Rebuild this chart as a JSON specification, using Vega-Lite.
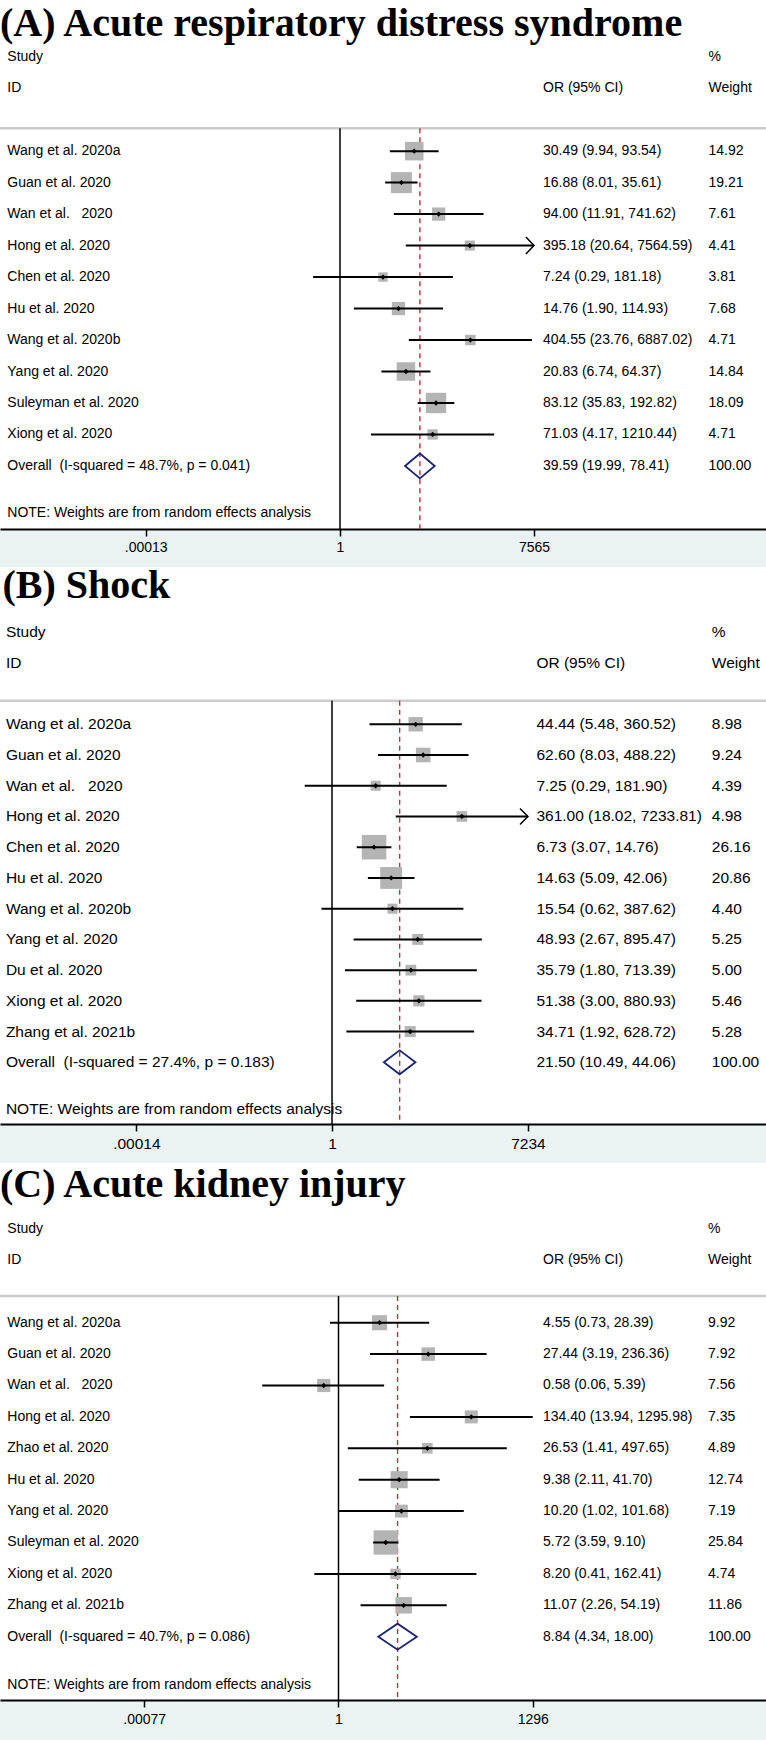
{
  "$schema": "https://vega.github.io/schema/vega-lite/v6.json",
  "background": "#eaf2f3",
  "padding": 0,
  "spacing": 0,
  "datasets": {
    "A": [
      {"row": -1, "type": "title", "s": "(A) Acute respiratory distress syndrome"},
      {"row": 0, "type": "header", "s": "Study", "p": "%"},
      {"row": 1, "type": "header", "s": "ID", "c": "OR (95% CI)", "p": "Weight"},
      {"row": 3, "type": "study", "s": "Wang et al. 2020a", "est": 30.49, "lo": 9.94, "hi": 93.54, "w": 14.92, "c": "30.49 (9.94, 93.54)", "p": "14.92"},
      {"row": 4, "type": "study", "s": "Guan et al. 2020", "est": 16.88, "lo": 8.01, "hi": 35.61, "w": 19.21, "c": "16.88 (8.01, 35.61)", "p": "19.21"},
      {"row": 5, "type": "study", "s": "Wan et al.\u00a0\u00a0 2020", "est": 94.00, "lo": 11.91, "hi": 741.62, "w": 7.61, "c": "94.00 (11.91, 741.62)", "p": "7.61"},
      {"row": 6, "type": "study", "s": "Hong et al. 2020", "est": 395.18, "lo": 20.64, "hi": 7564.59, "w": 4.41, "c": "395.18 (20.64, 7564.59)", "p": "4.41", "arrow": true},
      {"row": 7, "type": "study", "s": "Chen et al. 2020", "est": 7.24, "lo": 0.29, "hi": 181.18, "w": 3.81, "c": "7.24 (0.29, 181.18)", "p": "3.81"},
      {"row": 8, "type": "study", "s": "Hu et al. 2020", "est": 14.76, "lo": 1.90, "hi": 114.93, "w": 7.68, "c": "14.76 (1.90, 114.93)", "p": "7.68"},
      {"row": 9, "type": "study", "s": "Wang et al. 2020b", "est": 404.55, "lo": 23.76, "hi": 6887.02, "w": 4.71, "c": "404.55 (23.76, 6887.02)", "p": "4.71"},
      {"row": 10, "type": "study", "s": "Yang et al. 2020", "est": 20.83, "lo": 6.74, "hi": 64.37, "w": 14.84, "c": "20.83 (6.74, 64.37)", "p": "14.84"},
      {"row": 11, "type": "study", "s": "Suleyman et al. 2020", "est": 83.12, "lo": 35.83, "hi": 192.82, "w": 18.09, "c": "83.12 (35.83, 192.82)", "p": "18.09"},
      {"row": 12, "type": "study", "s": "Xiong et al. 2020", "est": 71.03, "lo": 4.17, "hi": 1210.44, "w": 4.71, "c": "71.03 (4.17, 1210.44)", "p": "4.71"},
      {"row": 13, "type": "overall", "s": "Overall\u00a0 (I-squared = 48.7%, p = 0.041)", "est": 39.59, "lo": 19.99, "hi": 78.41, "w": 100, "c": "39.59 (19.99, 78.41)", "p": "100.00"},
      {"row": 14, "type": "note", "s": "NOTE: Weights are from random effects analysis"}
    ],
    "B": [
      {"row": -1, "type": "title", "s": "(B) Shock"},
      {"row": 0, "type": "header", "s": "Study", "p": "%"},
      {"row": 1, "type": "header", "s": "ID", "c": "OR (95% CI)", "p": "Weight"},
      {"row": 3, "type": "study", "s": "Wang et al. 2020a", "est": 44.44, "lo": 5.48, "hi": 360.52, "w": 8.98, "c": "44.44 (5.48, 360.52)", "p": "8.98"},
      {"row": 4, "type": "study", "s": "Guan et al. 2020", "est": 62.60, "lo": 8.03, "hi": 488.22, "w": 9.24, "c": "62.60 (8.03, 488.22)", "p": "9.24"},
      {"row": 5, "type": "study", "s": "Wan et al.\u00a0\u00a0 2020", "est": 7.25, "lo": 0.29, "hi": 181.90, "w": 4.39, "c": "7.25 (0.29, 181.90)", "p": "4.39"},
      {"row": 6, "type": "study", "s": "Hong et al. 2020", "est": 361.00, "lo": 18.02, "hi": 7233.81, "w": 4.98, "c": "361.00 (18.02, 7233.81)", "p": "4.98", "arrow": true},
      {"row": 7, "type": "study", "s": "Chen et al. 2020", "est": 6.73, "lo": 3.07, "hi": 14.76, "w": 26.16, "c": "6.73 (3.07, 14.76)", "p": "26.16"},
      {"row": 8, "type": "study", "s": "Hu et al. 2020", "est": 14.63, "lo": 5.09, "hi": 42.06, "w": 20.86, "c": "14.63 (5.09, 42.06)", "p": "20.86"},
      {"row": 9, "type": "study", "s": "Wang et al. 2020b", "est": 15.54, "lo": 0.62, "hi": 387.62, "w": 4.40, "c": "15.54 (0.62, 387.62)", "p": "4.40"},
      {"row": 10, "type": "study", "s": "Yang et al. 2020", "est": 48.93, "lo": 2.67, "hi": 895.47, "w": 5.25, "c": "48.93 (2.67, 895.47)", "p": "5.25"},
      {"row": 11, "type": "study", "s": "Du et al. 2020", "est": 35.79, "lo": 1.80, "hi": 713.39, "w": 5.00, "c": "35.79 (1.80, 713.39)", "p": "5.00"},
      {"row": 12, "type": "study", "s": "Xiong et al. 2020", "est": 51.38, "lo": 3.00, "hi": 880.93, "w": 5.46, "c": "51.38 (3.00, 880.93)", "p": "5.46"},
      {"row": 13, "type": "study", "s": "Zhang et al. 2021b", "est": 34.71, "lo": 1.92, "hi": 628.72, "w": 5.28, "c": "34.71 (1.92, 628.72)", "p": "5.28"},
      {"row": 14, "type": "overall", "s": "Overall\u00a0 (I-squared = 27.4%, p = 0.183)", "est": 21.50, "lo": 10.49, "hi": 44.06, "w": 100, "c": "21.50 (10.49, 44.06)", "p": "100.00"},
      {"row": 15, "type": "note", "s": "NOTE: Weights are from random effects analysis"}
    ],
    "C": [
      {"row": -1, "type": "title", "s": "(C) Acute kidney injury"},
      {"row": 0, "type": "header", "s": "Study", "p": "%"},
      {"row": 1, "type": "header", "s": "ID", "c": "OR (95% CI)", "p": "Weight"},
      {"row": 3, "type": "study", "s": "Wang et al. 2020a", "est": 4.55, "lo": 0.73, "hi": 28.39, "w": 9.92, "c": "4.55 (0.73, 28.39)", "p": "9.92"},
      {"row": 4, "type": "study", "s": "Guan et al. 2020", "est": 27.44, "lo": 3.19, "hi": 236.36, "w": 7.92, "c": "27.44 (3.19, 236.36)", "p": "7.92"},
      {"row": 5, "type": "study", "s": "Wan et al.\u00a0\u00a0 2020", "est": 0.58, "lo": 0.06, "hi": 5.39, "w": 7.56, "c": "0.58 (0.06, 5.39)", "p": "7.56"},
      {"row": 6, "type": "study", "s": "Hong et al. 2020", "est": 134.40, "lo": 13.94, "hi": 1295.98, "w": 7.35, "c": "134.40 (13.94, 1295.98)", "p": "7.35"},
      {"row": 7, "type": "study", "s": "Zhao et al. 2020", "est": 26.53, "lo": 1.41, "hi": 497.65, "w": 4.89, "c": "26.53 (1.41, 497.65)", "p": "4.89"},
      {"row": 8, "type": "study", "s": "Hu et al. 2020", "est": 9.38, "lo": 2.11, "hi": 41.70, "w": 12.74, "c": "9.38 (2.11, 41.70)", "p": "12.74"},
      {"row": 9, "type": "study", "s": "Yang et al. 2020", "est": 10.20, "lo": 1.02, "hi": 101.68, "w": 7.19, "c": "10.20 (1.02, 101.68)", "p": "7.19"},
      {"row": 10, "type": "study", "s": "Suleyman et al. 2020", "est": 5.72, "lo": 3.59, "hi": 9.10, "w": 25.84, "c": "5.72 (3.59, 9.10)", "p": "25.84"},
      {"row": 11, "type": "study", "s": "Xiong et al. 2020", "est": 8.20, "lo": 0.41, "hi": 162.41, "w": 4.74, "c": "8.20 (0.41, 162.41)", "p": "4.74"},
      {"row": 12, "type": "study", "s": "Zhang et al. 2021b", "est": 11.07, "lo": 2.26, "hi": 54.19, "w": 11.86, "c": "11.07 (2.26, 54.19)", "p": "11.86"},
      {"row": 13, "type": "overall", "s": "Overall\u00a0 (I-squared = 40.7%, p = 0.086)", "est": 8.84, "lo": 4.34, "hi": 18.00, "w": 100, "c": "8.84 (4.34, 18.00)", "p": "100.00"},
      {"row": 14, "type": "note", "s": "NOTE: Weights are from random effects analysis"}
    ]
  },
  "vconcat": [
    {
      "width": 766, "height": 529,
      "data": {"name": "A"},
      "layer": [
        {"transform": [{"filter": "datum.type === 'overall'"}],
         "mark": {"type": "rule", "color": "#cccccc", "strokeWidth": 2.5, "clip": true},
         "encoding": {"y": {"datum": 2.27, "type": "quantitative", "scale": {"domain": [-1.801, 15.003], "reverse": true, "nice": false, "zero": false}, "axis": null}}},
        {"transform": [{"filter": "datum.type === 'overall'"}],
         "mark": {"type": "rule", "color": "black", "strokeWidth": 1.5, "clip": true},
         "encoding": {
           "x": {"datum": 1, "type": "quantitative", "scale": {"type": "log", "domain": [1.5909e-7, 3.2959e8], "nice": false, "zero": false}},
           "y": {"datum": 2.27, "type": "quantitative", "scale": {"domain": [-1.801, 15.003], "reverse": true, "nice": false, "zero": false}, "axis": null},
           "y2": {"datum": 15.003}}},
        {"transform": [{"filter": "datum.type === 'overall'"}],
         "mark": {"type": "rule", "color": "#b8333a", "strokeWidth": 1.4, "strokeDash": [5, 4], "clip": true},
         "encoding": {
           "x": {"field": "est", "type": "quantitative", "scale": {"type": "log", "domain": [1.5909e-7, 3.2959e8], "nice": false, "zero": false}},
           "y": {"datum": 2.27, "type": "quantitative", "scale": {"domain": [-1.801, 15.003], "reverse": true, "nice": false, "zero": false}, "axis": null},
           "y2": {"datum": 15.003}}},
        {"transform": [{"filter": "datum.type === 'study'"}],
         "mark": {"type": "square", "color": "#b4b4b4", "filled": true, "opacity": 1, "clip": true},
         "encoding": {
           "x": {"field": "est", "type": "quantitative", "scale": {"type": "log", "domain": [1.5909e-7, 3.2959e8], "nice": false, "zero": false}},
           "y": {"field": "row", "type": "quantitative", "scale": {"domain": [-1.801, 15.003], "reverse": true, "nice": false, "zero": false}, "axis": null},
           "size": {"field": "w", "type": "quantitative", "scale": {"domain": [0, 30], "range": [0, 690]}, "legend": null}}},
        {"transform": [{"filter": "datum.type === 'study'"}],
         "mark": {"type": "rule", "color": "black", "strokeWidth": 2, "clip": true},
         "encoding": {
           "x": {"field": "lo", "type": "quantitative", "scale": {"type": "log", "domain": [1.5909e-7, 3.2959e8], "nice": false, "zero": false},
                 "axis": {"values": [0.00013, 1, 7565], "labelExpr": "datum.value < 1 ? replace(toString(datum.value), '0.', '.') : toString(datum.value)", "title": null, "grid": false, "domainColor": "black", "domainWidth": 2, "tickColor": "black", "tickWidth": 1.5, "tickSize": 7, "labelFont": "Liberation Sans", "labelFontSize": 14, "labelColor": "black", "labelPadding": 4.6, "labelFlush": false, "labelOverlap": false, "labelBound": false, "minExtent": 38, "maxExtent": 38}},
           "x2": {"field": "hi"},
           "y": {"field": "row", "type": "quantitative", "scale": {"domain": [-1.801, 15.003], "reverse": true, "nice": false, "zero": false}, "axis": null}}},
        {"transform": [{"filter": "datum.type === 'study'"}],
         "mark": {"type": "point", "shape": "diamond", "size": 28, "filled": true, "opacity": 1, "color": "black", "clip": true},
         "encoding": {
           "x": {"field": "est", "type": "quantitative", "scale": {"type": "log", "domain": [1.5909e-7, 3.2959e8], "nice": false, "zero": false}},
           "y": {"field": "row", "type": "quantitative", "scale": {"domain": [-1.801, 15.003], "reverse": true, "nice": false, "zero": false}, "axis": null}}},
        {"transform": [{"filter": "datum.arrow === true"}],
         "mark": {"type": "point", "shape": "M-0.95,-1L0,0L-0.95,1", "size": 289, "filled": false, "opacity": 1, "color": "black", "strokeWidth": 1.5, "clip": true},
         "encoding": {
           "x": {"field": "hi", "type": "quantitative", "scale": {"type": "log", "domain": [1.5909e-7, 3.2959e8], "nice": false, "zero": false}},
           "y": {"field": "row", "type": "quantitative", "scale": {"domain": [-1.801, 15.003], "reverse": true, "nice": false, "zero": false}, "axis": null}}},
        {"transform": [{"filter": "datum.type === 'overall'"}],
         "mark": {"type": "point", "shape": "M-1,0L0,-0.842L1,0L0,0.842Z", "size": 882, "filled": false, "opacity": 1, "color": "#1b2470", "strokeWidth": 1.8, "clip": true},
         "encoding": {
           "x": {"field": "est", "type": "quantitative", "scale": {"type": "log", "domain": [1.5909e-7, 3.2959e8], "nice": false, "zero": false}},
           "y": {"field": "row", "type": "quantitative", "scale": {"domain": [-1.801, 15.003], "reverse": true, "nice": false, "zero": false}, "axis": null}}},
        {"transform": [{"filter": "datum.type === 'title'"}],
         "mark": {"type": "text", "font": "Liberation Serif", "fontWeight": "bold", "fontSize": 40, "align": "left", "baseline": "alphabetic", "dy": 11.2, "color": "black", "clip": true},
         "encoding": {
           "x": {"datum": 1.5909e-7, "type": "quantitative", "scale": {"type": "log", "domain": [1.5909e-7, 3.2959e8], "nice": false, "zero": false}},
           "y": {"field": "row", "type": "quantitative", "scale": {"domain": [-1.801, 15.003], "reverse": true, "nice": false, "zero": false}, "axis": null},
           "text": {"field": "s", "type": "nominal"}}},
        {"transform": [{"filter": "datum.type === 'header' || datum.type === 'study' || datum.type === 'overall'"}],
         "mark": {"type": "text", "font": "Liberation Sans", "fontSize": 14, "align": "left", "baseline": "middle", "color": "black", "clip": true},
         "encoding": {
           "x": {"datum": 2.2266e-7, "type": "quantitative", "scale": {"type": "log", "domain": [1.5909e-7, 3.2959e8], "nice": false, "zero": false}},
           "y": {"field": "row", "type": "quantitative", "scale": {"domain": [-1.801, 15.003], "reverse": true, "nice": false, "zero": false}, "axis": null},
           "text": {"field": "s", "type": "nominal"}}},
        {"transform": [{"filter": "datum.type === 'note'"}],
         "mark": {"type": "text", "font": "Liberation Sans", "fontSize": 14, "align": "left", "baseline": "middle", "dy": 15.3, "color": "black", "clip": true},
         "encoding": {
           "x": {"datum": 2.2266e-7, "type": "quantitative", "scale": {"type": "log", "domain": [1.5909e-7, 3.2959e8], "nice": false, "zero": false}},
           "y": {"field": "row", "type": "quantitative", "scale": {"domain": [-1.801, 15.003], "reverse": true, "nice": false, "zero": false}, "axis": null},
           "text": {"field": "s", "type": "nominal"}}},
        {"transform": [{"filter": "isValid(datum.c)"}],
         "mark": {"type": "text", "font": "Liberation Sans", "fontSize": 14, "align": "left", "baseline": "middle", "color": "black", "clip": true},
         "encoding": {
           "x": {"datum": 11455, "type": "quantitative", "scale": {"type": "log", "domain": [1.5909e-7, 3.2959e8], "nice": false, "zero": false}},
           "y": {"field": "row", "type": "quantitative", "scale": {"domain": [-1.801, 15.003], "reverse": true, "nice": false, "zero": false}, "axis": null},
           "text": {"field": "c", "type": "nominal"}}},
        {"transform": [{"filter": "isValid(datum.p)"}],
         "mark": {"type": "text", "font": "Liberation Sans", "fontSize": 14, "align": "left", "baseline": "middle", "color": "black", "clip": true},
         "encoding": {
           "x": {"datum": 2.3345e7, "type": "quantitative", "scale": {"type": "log", "domain": [1.5909e-7, 3.2959e8], "nice": false, "zero": false}},
           "y": {"field": "row", "type": "quantitative", "scale": {"domain": [-1.801, 15.003], "reverse": true, "nice": false, "zero": false}, "axis": null},
           "text": {"field": "p", "type": "nominal"}}}
      ]
    },
    {
      "width": 766, "height": 557,
      "data": {"name": "B"},
      "layer": [
        {"transform": [{"filter": "datum.type === 'overall'"}],
         "mark": {"type": "rule", "color": "#cccccc", "strokeWidth": 2.5, "clip": true},
         "encoding": {"y": {"datum": 2.232, "type": "quantitative", "scale": {"domain": [-2.118, 16.007], "reverse": true, "nice": false, "zero": false}, "axis": null}}},
        {"transform": [{"filter": "datum.type === 'overall'"}],
         "mark": {"type": "rule", "color": "black", "strokeWidth": 1.5, "clip": true},
         "encoding": {
           "x": {"datum": 1, "type": "quantitative", "scale": {"type": "log", "domain": [2.8904e-7, 3.5319e8], "nice": false, "zero": false}},
           "y": {"datum": 2.232, "type": "quantitative", "scale": {"domain": [-2.118, 16.007], "reverse": true, "nice": false, "zero": false}, "axis": null},
           "y2": {"datum": 16.007}}},
        {"transform": [{"filter": "datum.type === 'overall'"}],
         "mark": {"type": "rule", "color": "#b8333a", "strokeWidth": 1.4, "strokeDash": [5, 4], "clip": true},
         "encoding": {
           "x": {"field": "est", "type": "quantitative", "scale": {"type": "log", "domain": [2.8904e-7, 3.5319e8], "nice": false, "zero": false}},
           "y": {"datum": 2.232, "type": "quantitative", "scale": {"domain": [-2.118, 16.007], "reverse": true, "nice": false, "zero": false}, "axis": null},
           "y2": {"datum": 16.007}}},
        {"transform": [{"filter": "datum.type === 'study'"}],
         "mark": {"type": "square", "color": "#b4b4b4", "filled": true, "opacity": 1, "clip": true},
         "encoding": {
           "x": {"field": "est", "type": "quantitative", "scale": {"type": "log", "domain": [2.8904e-7, 3.5319e8], "nice": false, "zero": false}},
           "y": {"field": "row", "type": "quantitative", "scale": {"domain": [-2.118, 16.007], "reverse": true, "nice": false, "zero": false}, "axis": null},
           "size": {"field": "w", "type": "quantitative", "scale": {"domain": [0, 30], "range": [0, 677]}, "legend": null}}},
        {"transform": [{"filter": "datum.type === 'study'"}],
         "mark": {"type": "rule", "color": "black", "strokeWidth": 2, "clip": true},
         "encoding": {
           "x": {"field": "lo", "type": "quantitative", "scale": {"type": "log", "domain": [2.8904e-7, 3.5319e8], "nice": false, "zero": false},
                 "axis": {"values": [0.00014, 1, 7234], "labelExpr": "datum.value < 1 ? replace(toString(datum.value), '0.', '.') : toString(datum.value)", "title": null, "grid": false, "domainColor": "black", "domainWidth": 2, "tickColor": "black", "tickWidth": 1.5, "tickSize": 7, "labelFont": "Liberation Sans", "labelFontSize": 15.5, "labelColor": "black", "labelPadding": 5.6, "labelFlush": false, "labelOverlap": false, "labelBound": false, "minExtent": 39, "maxExtent": 39}},
           "x2": {"field": "hi"},
           "y": {"field": "row", "type": "quantitative", "scale": {"domain": [-2.118, 16.007], "reverse": true, "nice": false, "zero": false}, "axis": null}}},
        {"transform": [{"filter": "datum.type === 'study'"}],
         "mark": {"type": "point", "shape": "diamond", "size": 28, "filled": true, "opacity": 1, "color": "black", "clip": true},
         "encoding": {
           "x": {"field": "est", "type": "quantitative", "scale": {"type": "log", "domain": [2.8904e-7, 3.5319e8], "nice": false, "zero": false}},
           "y": {"field": "row", "type": "quantitative", "scale": {"domain": [-2.118, 16.007], "reverse": true, "nice": false, "zero": false}, "axis": null}}},
        {"transform": [{"filter": "datum.arrow === true"}],
         "mark": {"type": "point", "shape": "M-1,-1L0,0L-1,1", "size": 256, "filled": false, "opacity": 1, "color": "black", "strokeWidth": 1.5, "clip": true},
         "encoding": {
           "x": {"field": "hi", "type": "quantitative", "scale": {"type": "log", "domain": [2.8904e-7, 3.5319e8], "nice": false, "zero": false}},
           "y": {"field": "row", "type": "quantitative", "scale": {"domain": [-2.118, 16.007], "reverse": true, "nice": false, "zero": false}, "axis": null}}},
        {"transform": [{"filter": "datum.type === 'overall'"}],
         "mark": {"type": "point", "shape": "M-1,0L0,-0.759L1,0L0,0.759Z", "size": 1001, "filled": false, "opacity": 1, "color": "#1b2470", "strokeWidth": 1.8, "clip": true},
         "encoding": {
           "x": {"field": "est", "type": "quantitative", "scale": {"type": "log", "domain": [2.8904e-7, 3.5319e8], "nice": false, "zero": false}},
           "y": {"field": "row", "type": "quantitative", "scale": {"domain": [-2.118, 16.007], "reverse": true, "nice": false, "zero": false}, "axis": null}}},
        {"transform": [{"filter": "datum.type === 'title'"}],
         "mark": {"type": "text", "font": "Liberation Serif", "fontWeight": "bold", "fontSize": 40, "align": "left", "baseline": "alphabetic", "dy": -3.4, "color": "black", "clip": true},
         "encoding": {
           "x": {"datum": 3.2375e-7, "type": "quantitative", "scale": {"type": "log", "domain": [2.8904e-7, 3.5319e8], "nice": false, "zero": false}},
           "y": {"field": "row", "type": "quantitative", "scale": {"domain": [-2.118, 16.007], "reverse": true, "nice": false, "zero": false}, "axis": null},
           "text": {"field": "s", "type": "nominal"}}},
        {"transform": [{"filter": "datum.type === 'header' || datum.type === 'study' || datum.type === 'overall'"}],
         "mark": {"type": "text", "font": "Liberation Sans", "fontSize": 15.5, "align": "left", "baseline": "middle", "color": "black", "clip": true},
         "encoding": {
           "x": {"datum": 3.7772e-7, "type": "quantitative", "scale": {"type": "log", "domain": [2.8904e-7, 3.5319e8], "nice": false, "zero": false}},
           "y": {"field": "row", "type": "quantitative", "scale": {"domain": [-2.118, 16.007], "reverse": true, "nice": false, "zero": false}, "axis": null},
           "text": {"field": "s", "type": "nominal"}}},
        {"transform": [{"filter": "datum.type === 'note'"}],
         "mark": {"type": "text", "font": "Liberation Sans", "fontSize": 15.5, "align": "left", "baseline": "middle", "dy": 15.9, "color": "black", "clip": true},
         "encoding": {
           "x": {"datum": 3.7772e-7, "type": "quantitative", "scale": {"type": "log", "domain": [2.8904e-7, 3.5319e8], "nice": false, "zero": false}},
           "y": {"field": "row", "type": "quantitative", "scale": {"domain": [-2.118, 16.007], "reverse": true, "nice": false, "zero": false}, "axis": null},
           "text": {"field": "s", "type": "nominal"}}},
        {"transform": [{"filter": "isValid(datum.c)"}],
         "mark": {"type": "text", "font": "Liberation Sans", "fontSize": 15.5, "align": "left", "baseline": "middle", "color": "black", "clip": true},
         "encoding": {
           "x": {"datum": 10613, "type": "quantitative", "scale": {"type": "log", "domain": [2.8904e-7, 3.5319e8], "nice": false, "zero": false}},
           "y": {"field": "row", "type": "quantitative", "scale": {"domain": [-2.118, 16.007], "reverse": true, "nice": false, "zero": false}, "axis": null},
           "text": {"field": "c", "type": "nominal"}}},
        {"transform": [{"filter": "isValid(datum.p)"}],
         "mark": {"type": "text", "font": "Liberation Sans", "fontSize": 15.5, "align": "left", "baseline": "middle", "color": "black", "clip": true},
         "encoding": {
           "x": {"datum": 3.0235e7, "type": "quantitative", "scale": {"type": "log", "domain": [2.8904e-7, 3.5319e8], "nice": false, "zero": false}},
           "y": {"field": "row", "type": "quantitative", "scale": {"domain": [-2.118, 16.007], "reverse": true, "nice": false, "zero": false}, "axis": null},
           "text": {"field": "p", "type": "nominal"}}}
      ]
    },
    {
      "width": 766, "height": 537,
      "data": {"name": "C"},
      "layer": [
        {"transform": [{"filter": "datum.type === 'overall'"}],
         "mark": {"type": "rule", "color": "#cccccc", "strokeWidth": 2.5, "clip": true},
         "encoding": {"y": {"datum": 2.15, "type": "quantitative", "scale": {"domain": [-2.086, 15.016], "reverse": true, "nice": false, "zero": false}, "axis": null}}},
        {"transform": [{"filter": "datum.type === 'overall'"}],
         "mark": {"type": "rule", "color": "black", "strokeWidth": 1.5, "clip": true},
         "encoding": {
           "x": {"datum": 1, "type": "quantitative", "scale": {"type": "log", "domain": [3.7612e-6, 7.0953e6], "nice": false, "zero": false}},
           "y": {"datum": 2.15, "type": "quantitative", "scale": {"domain": [-2.086, 15.016], "reverse": true, "nice": false, "zero": false}, "axis": null},
           "y2": {"datum": 15.016}}},
        {"transform": [{"filter": "datum.type === 'overall'"}],
         "mark": {"type": "rule", "color": "#b8333a", "strokeWidth": 1.4, "strokeDash": [5, 4], "clip": true},
         "encoding": {
           "x": {"field": "est", "type": "quantitative", "scale": {"type": "log", "domain": [3.7612e-6, 7.0953e6], "nice": false, "zero": false}},
           "y": {"datum": 2.15, "type": "quantitative", "scale": {"domain": [-2.086, 15.016], "reverse": true, "nice": false, "zero": false}, "axis": null},
           "y2": {"datum": 15.016}}},
        {"transform": [{"filter": "datum.type === 'study'"}],
         "mark": {"type": "square", "color": "#b4b4b4", "filled": true, "opacity": 1, "clip": true},
         "encoding": {
           "x": {"field": "est", "type": "quantitative", "scale": {"type": "log", "domain": [3.7612e-6, 7.0953e6], "nice": false, "zero": false}},
           "y": {"field": "row", "type": "quantitative", "scale": {"domain": [-2.086, 15.016], "reverse": true, "nice": false, "zero": false}, "axis": null},
           "size": {"field": "w", "type": "quantitative", "scale": {"domain": [0, 30], "range": [0, 607]}, "legend": null}}},
        {"transform": [{"filter": "datum.type === 'study'"}],
         "mark": {"type": "rule", "color": "black", "strokeWidth": 2, "clip": true},
         "encoding": {
           "x": {"field": "lo", "type": "quantitative", "scale": {"type": "log", "domain": [3.7612e-6, 7.0953e6], "nice": false, "zero": false},
                 "axis": {"values": [0.00077, 1, 1296], "labelExpr": "datum.value < 1 ? replace(toString(datum.value), '0.', '.') : toString(datum.value)", "title": null, "grid": false, "domainColor": "black", "domainWidth": 2, "tickColor": "black", "tickWidth": 1.5, "tickSize": 7, "labelFont": "Liberation Sans", "labelFontSize": 14, "labelColor": "black", "labelPadding": 5.2, "labelFlush": false, "labelOverlap": false, "labelBound": false, "minExtent": 40, "maxExtent": 40}},
           "x2": {"field": "hi"},
           "y": {"field": "row", "type": "quantitative", "scale": {"domain": [-2.086, 15.016], "reverse": true, "nice": false, "zero": false}, "axis": null}}},
        {"transform": [{"filter": "datum.type === 'study'"}],
         "mark": {"type": "point", "shape": "diamond", "size": 28, "filled": true, "opacity": 1, "color": "black", "clip": true},
         "encoding": {
           "x": {"field": "est", "type": "quantitative", "scale": {"type": "log", "domain": [3.7612e-6, 7.0953e6], "nice": false, "zero": false}},
           "y": {"field": "row", "type": "quantitative", "scale": {"domain": [-2.086, 15.016], "reverse": true, "nice": false, "zero": false}, "axis": null}}},
        {"transform": [{"filter": "datum.type === 'overall'"}],
         "mark": {"type": "point", "shape": "M-1,0L0,-0.675L1,0L0,0.675Z", "size": 1486, "filled": false, "opacity": 1, "color": "#1b2470", "strokeWidth": 1.8, "clip": true},
         "encoding": {
           "x": {"field": "est", "type": "quantitative", "scale": {"type": "log", "domain": [3.7612e-6, 7.0953e6], "nice": false, "zero": false}},
           "y": {"field": "row", "type": "quantitative", "scale": {"domain": [-2.086, 15.016], "reverse": true, "nice": false, "zero": false}, "axis": null}}},
        {"transform": [{"filter": "datum.type === 'title'"}],
         "mark": {"type": "text", "font": "Liberation Serif", "fontWeight": "bold", "fontSize": 40, "align": "left", "baseline": "alphabetic", "dy": -0.4, "color": "black", "clip": true},
         "encoding": {
           "x": {"datum": 3.7612e-6, "type": "quantitative", "scale": {"type": "log", "domain": [3.7612e-6, 7.0953e6], "nice": false, "zero": false}},
           "y": {"field": "row", "type": "quantitative", "scale": {"domain": [-2.086, 15.016], "reverse": true, "nice": false, "zero": false}, "axis": null},
           "text": {"field": "s", "type": "nominal"}}},
        {"transform": [{"filter": "datum.type === 'header' || datum.type === 'study' || datum.type === 'overall'"}],
         "mark": {"type": "text", "font": "Liberation Sans", "fontSize": 14, "align": "left", "baseline": "middle", "color": "black", "clip": true},
         "encoding": {
           "x": {"datum": 4.924e-6, "type": "quantitative", "scale": {"type": "log", "domain": [3.7612e-6, 7.0953e6], "nice": false, "zero": false}},
           "y": {"field": "row", "type": "quantitative", "scale": {"domain": [-2.086, 15.016], "reverse": true, "nice": false, "zero": false}, "axis": null},
           "text": {"field": "s", "type": "nominal"}}},
        {"transform": [{"filter": "datum.type === 'note'"}],
         "mark": {"type": "text", "font": "Liberation Sans", "fontSize": 14, "align": "left", "baseline": "middle", "dy": 16.9, "color": "black", "clip": true},
         "encoding": {
           "x": {"datum": 4.924e-6, "type": "quantitative", "scale": {"type": "log", "domain": [3.7612e-6, 7.0953e6], "nice": false, "zero": false}},
           "y": {"field": "row", "type": "quantitative", "scale": {"domain": [-2.086, 15.016], "reverse": true, "nice": false, "zero": false}, "axis": null},
           "text": {"field": "s", "type": "nominal"}}},
        {"transform": [{"filter": "isValid(datum.c)"}],
         "mark": {"type": "text", "font": "Liberation Sans", "fontSize": 14, "align": "left", "baseline": "middle", "color": "black", "clip": true},
         "encoding": {
           "x": {"datum": 1893.3, "type": "quantitative", "scale": {"type": "log", "domain": [3.7612e-6, 7.0953e6], "nice": false, "zero": false}},
           "y": {"field": "row", "type": "quantitative", "scale": {"domain": [-2.086, 15.016], "reverse": true, "nice": false, "zero": false}, "axis": null},
           "text": {"field": "c", "type": "nominal"}}},
        {"transform": [{"filter": "isValid(datum.p)"}],
         "mark": {"type": "text", "font": "Liberation Sans", "fontSize": 14, "align": "left", "baseline": "middle", "color": "black", "clip": true},
         "encoding": {
           "x": {"datum": 834597, "type": "quantitative", "scale": {"type": "log", "domain": [3.7612e-6, 7.0953e6], "nice": false, "zero": false}},
           "y": {"field": "row", "type": "quantitative", "scale": {"domain": [-2.086, 15.016], "reverse": true, "nice": false, "zero": false}, "axis": null},
           "text": {"field": "p", "type": "nominal"}}}
      ]
    }
  ],
  "config": {
    "view": {"stroke": null, "fill": "white"},
    "axis": {"grid": false}
  }
}
